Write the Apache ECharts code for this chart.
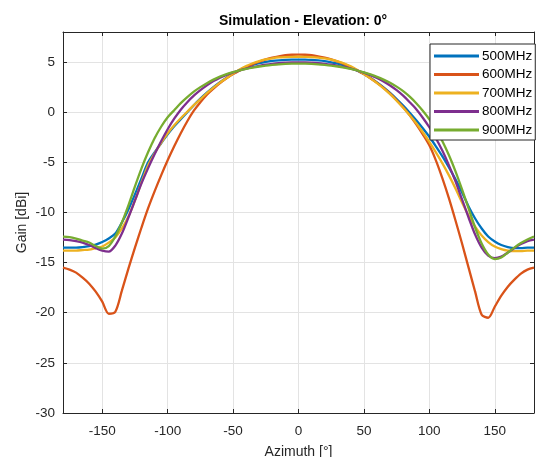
<!DOCTYPE html>
<html>
<head>
<meta charset="utf-8">
<script src="https://cdn.jsdelivr.net/npm/echarts@6/dist/echarts.min.js"></script>
<style>
  html, body { margin: 0; padding: 0; background: #fff; }
  #chart { width: 537px; height: 457px; }
</style>
</head>
<body>
<div id="chart"></div>
<script>
// azimuth samples, 5 degree steps
var azimuth = [-180,-175,-170,-165,-160,-155,-150,-145,-140,-135,-130,-125,-120,-115,-110,-105,-100,-95,-90,-85,-80,-75,-70,-65,-60,-55,-50,-45,-40,-35,-30,-25,-20,-15,-10,-5,
  0,5,10,15,20,25,30,35,40,45,50,55,60,65,70,75,80,85,90,95,100,105,110,115,120,125,130,135,140,145,150,155,160,165,170,175,180];

var names = ['500MHz', '600MHz', '700MHz', '800MHz', '900MHz'];
var colors = ['#0072BD', '#D95319', '#EDB120', '#7E2F8E', '#77AC30'];

var gain500 = [-13.5,-13.5,-13.5,-13.45,-13.35,-13.2,-12.95,-12.6,-12.1,-11.0,-9.7,-8.2,-6.6,-5.0,-4.0,-3.1,-2.2,-1.4,-0.7,0.0,0.7,1.35,1.95,2.5,3.0,3.45,3.85,4.2,4.5,4.72,4.9,5.03,5.12,5.18,5.22,5.24,
  5.25,
  5.24,5.21,5.16,5.09,4.98,4.84,4.65,4.42,4.13,3.8,3.42,2.98,2.48,1.93,1.32,0.66,-0.05,-0.8,-1.6,-2.45,-3.4,-4.4,-5.5,-6.7,-8.0,-9.4,-10.6,-11.6,-12.4,-12.9,-13.25,-13.45,-13.55,-13.55,-13.5,-13.5];
var gain600 = [-15.5,-15.7,-16.0,-16.5,-17.1,-17.9,-18.9,-20.1,-19.9,-17.8,-15.6,-13.5,-11.5,-9.6,-7.9,-6.3,-4.8,-3.4,-2.1,-0.9,0.15,1.0,1.75,2.35,2.9,3.38,3.8,4.17,4.5,4.8,5.05,5.27,5.45,5.58,5.68,5.73,
  5.75,
  5.73,5.68,5.58,5.45,5.27,5.05,4.8,4.5,4.17,3.8,3.38,2.92,2.42,1.85,1.2,0.5,-0.3,-1.2,-2.2,-3.3,-4.8,-6.6,-8.6,-10.8,-13.1,-15.5,-17.9,-20.2,-20.5,-19.4,-18.3,-17.4,-16.7,-16.1,-15.7,-15.5];
var gain700 = [-13.8,-13.8,-13.8,-13.75,-13.7,-13.55,-13.4,-13.0,-12.5,-11.6,-10.4,-8.8,-7.0,-5.3,-4.1,-3.05,-2.1,-1.3,-0.6,0.05,0.7,1.3,1.9,2.45,2.95,3.4,3.85,4.25,4.6,4.88,5.1,5.26,5.38,5.46,5.5,5.52,
  5.53,
  5.52,5.5,5.45,5.37,5.25,5.08,4.86,4.58,4.22,3.82,3.38,2.9,2.38,1.8,1.15,0.45,-0.3,-1.1,-2.0,-2.95,-4.0,-5.1,-6.3,-7.6,-9.0,-10.3,-11.4,-12.3,-12.95,-13.4,-13.65,-13.8,-13.85,-13.85,-13.8,-13.8];
var gain800 = [-12.7,-12.75,-12.85,-13.0,-13.25,-13.55,-13.8,-13.9,-13.3,-12.1,-10.5,-8.8,-7.1,-5.6,-4.2,-2.9,-1.7,-0.65,0.25,1.0,1.65,2.2,2.68,3.1,3.45,3.73,3.97,4.17,4.35,4.5,4.63,4.74,4.83,4.9,4.94,4.97,
  4.98,
  4.97,4.94,4.9,4.83,4.74,4.63,4.5,4.35,4.16,3.95,3.7,3.41,3.07,2.67,2.2,1.65,1.0,0.3,-0.55,-1.5,-2.6,-3.85,-5.3,-6.9,-8.7,-10.5,-12.2,-13.5,-14.3,-14.55,-14.4,-14.0,-13.55,-13.15,-12.85,-12.7];
var gain900 = [-12.4,-12.45,-12.6,-12.8,-13.0,-13.35,-13.6,-13.35,-12.4,-11.0,-9.3,-7.4,-5.6,-4.0,-2.6,-1.45,-0.5,0.2,0.9,1.5,2.05,2.5,2.9,3.25,3.55,3.8,4.0,4.17,4.32,4.45,4.56,4.65,4.72,4.78,4.82,4.84,
  4.85,
  4.84,4.82,4.78,4.72,4.65,4.56,4.45,4.32,4.16,3.98,3.77,3.53,3.25,2.93,2.55,2.1,1.55,0.9,0.15,-0.7,-1.7,-2.9,-4.3,-5.9,-7.7,-9.6,-11.5,-13.1,-14.2,-14.65,-14.5,-14.0,-13.5,-13.05,-12.7,-12.4];

var xTicks = [-150, -100, -50, 0, 50, 100, 150];

var gains = [gain500, gain600, gain700, gain800, gain900];
var textColor = '#262626';
var font = 'Liberation Sans, Arial, Helvetica, sans-serif';

var chart = echarts.init(document.getElementById('chart'));

var series = names.map(function (name, i) {
  return {
    name: name,
    type: 'line',
    data: azimuth.map(function (a, j) { return [a, gains[i][j]]; }),
    showSymbol: false,
    smooth: 0.3,
    color: colors[i],
    lineStyle: { width: 2.3, color: colors[i] }
  };
});

chart.setOption({
  animation: false,
  backgroundColor: '#fff',
  title: {
    text: 'Simulation - Elevation: 0°',
    left: 298, top: 9,
    textAlign: 'center',
    textStyle: { fontSize: 14, fontWeight: 'bold', color: '#000', fontFamily: font }
  },
  grid: { left: 63, right: 3, top: 32, bottom: 44, outerBoundsMode: 'none', containLabel: false },
  legend: {
    data: names,
    orient: 'vertical',
    left: 430, top: 44,
    padding: [5, 3, 3, 4],
    itemGap: 4.5,
    itemWidth: 45, itemHeight: 3,
    icon: 'rect',
    backgroundColor: '#fff',
    borderColor: textColor, borderWidth: 1,
    textStyle: { fontSize: 13.5, color: '#000', fontFamily: font, padding: [0, 0, 0, -2] }
  },
  xAxis: [{
    type: 'value', min: -180, max: 180,
    name: 'Azimuth [°]', nameLocation: 'middle', nameGap: 32, nameMoveOverlap: false,
    nameTextStyle: { fontSize: 14, color: textColor, fontFamily: font },
    axisLine: { onZero: false, lineStyle: { color: textColor, width: 1 } },
    axisTick: { inside: true, length: 4, customValues: xTicks, lineStyle: { color: textColor } },
    axisLabel: { customValues: xTicks, margin: 11, fontSize: 13.5, color: textColor, fontFamily: font },
    splitLine: { show: true, lineStyle: { color: '#e3e3e3', width: 1 } }
  }, {
    type: 'value', min: -180, max: 180, position: 'top',
    axisLine: { show: true, onZero: false, lineStyle: { color: textColor, width: 1 } },
    axisTick: { show: true, inside: true, length: 4, customValues: xTicks, lineStyle: { color: textColor } },
    axisLabel: { show: false },
    splitLine: { show: false }
  }],
  yAxis: [{
    type: 'value', min: -30, max: 8, interval: 5,
    name: 'Gain [dBi]', nameLocation: 'middle', nameGap: 34, nameRotate: 90, nameMoveOverlap: false,
    nameTextStyle: { fontSize: 14, color: textColor, fontFamily: font },
    axisLine: { show: true, onZero: false, lineStyle: { color: textColor, width: 1 } },
    axisTick: { show: true, inside: true, length: 4, lineStyle: { color: textColor } },
    axisLabel: { margin: 8, showMaxLabel: false, fontSize: 13.5, color: textColor, fontFamily: font },
    splitLine: { show: true, lineStyle: { color: '#e3e3e3', width: 1 } }
  }, {
    type: 'value', min: -30, max: 8, interval: 5, position: 'right',
    axisLine: { show: true, onZero: false, lineStyle: { color: textColor, width: 1 } },
    axisTick: { show: true, inside: true, length: 4, lineStyle: { color: textColor } },
    axisLabel: { show: false },
    splitLine: { show: false }
  }],
  series: series
});
</script>
</body>
</html>
